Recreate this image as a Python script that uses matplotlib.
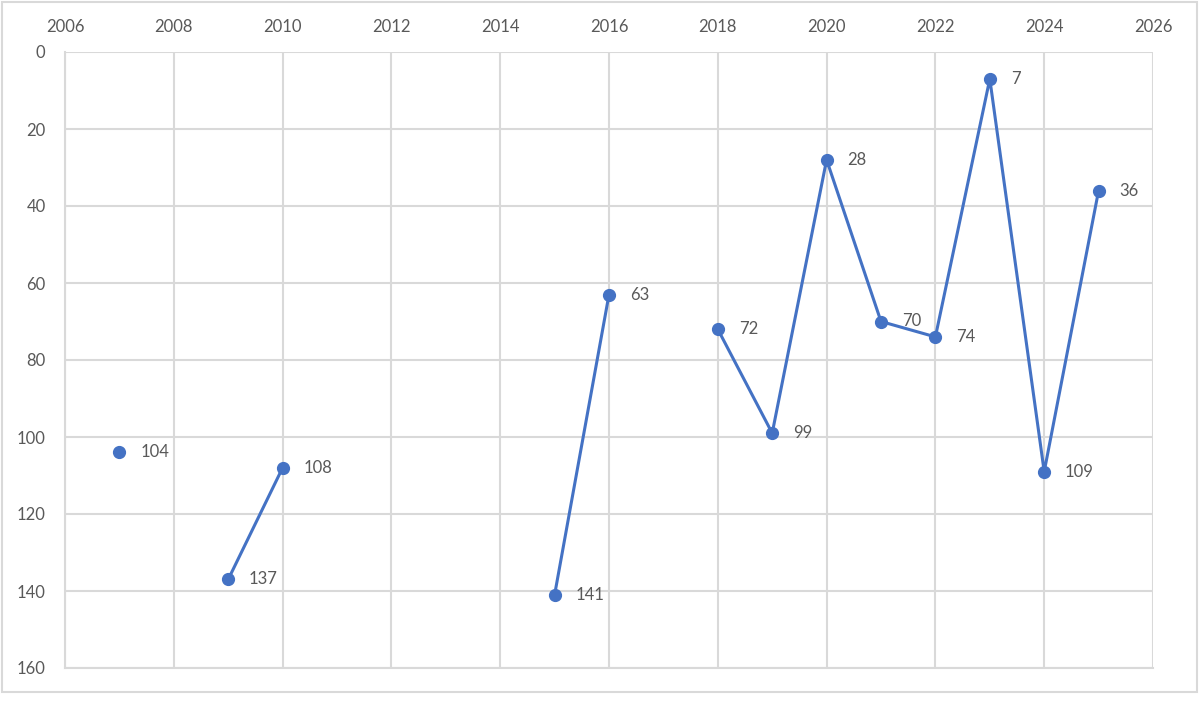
import numpy as np
import matplotlib.pyplot as plt
from matplotlib.patches import Rectangle

# yearly values, NaN where there is no data (line breaks there)
years = [2007, 2008, 2009, 2010, 2011, 2012, 2013, 2014, 2015, 2016,
         2017, 2018, 2019, 2020, 2021, 2022, 2023, 2024, 2025]
values = [104, np.nan, 137, 108, np.nan, np.nan, np.nan, np.nan, 141, 63,
          np.nan, 72, 99, 28, 70, 74, 7, 109, 36]

x_ticks = list(range(2006, 2027, 2))
y_ticks = list(range(0, 161, 20))

plt.rcParams['font.family'] = ['Lato', 'DejaVu Sans']

fig = plt.figure(figsize=(11.99, 7.2), dpi=100)
ax = fig.add_axes([65 / 1199, 1 - 668 / 720, (1153 - 65) / 1199, (668 - 52) / 720])

blue = '#4472C4'
ax.plot(years, values, color=blue, linewidth=2.2, marker='o', markersize=8.5,
        zorder=3, clip_on=False)

for x, v in zip(years, values):
    if np.isnan(v):
        continue
    ax.annotate(str(int(v)), (x, v), xytext=(15, 0), textcoords='offset points',
                va='center', ha='left', fontsize=12, color='#595959')

ax.set_xlim(2006, 2026)
ax.set_ylim(160, 0)
ax.set_xticks(x_ticks)
ax.set_yticks(y_ticks)
ax.xaxis.tick_top()
ax.tick_params(length=0, labelsize=12, labelcolor='#595959')
ax.tick_params(axis='x', pad=12)
ax.tick_params(axis='y', pad=14)
ax.grid(True, color='#D9D9D9', linewidth=1.5)
ax.set_axisbelow(True)
for side in ['top', 'right']:
    ax.spines[side].set_visible(False)
for side in ['left', 'bottom']:
    ax.spines[side].set_color('#D9D9D9')
    ax.spines[side].set_linewidth(1.5)

# chart border like the spreadsheet frame
fig.patches.append(Rectangle((1.5 / 1199, 1 - 692 / 720), 1195.5 / 1199, 690.5 / 720,
                             transform=fig.transFigure, fill=False,
                             edgecolor='#D9D9D9', linewidth=1.5))

fig.savefig('out.png', dpi=100)
